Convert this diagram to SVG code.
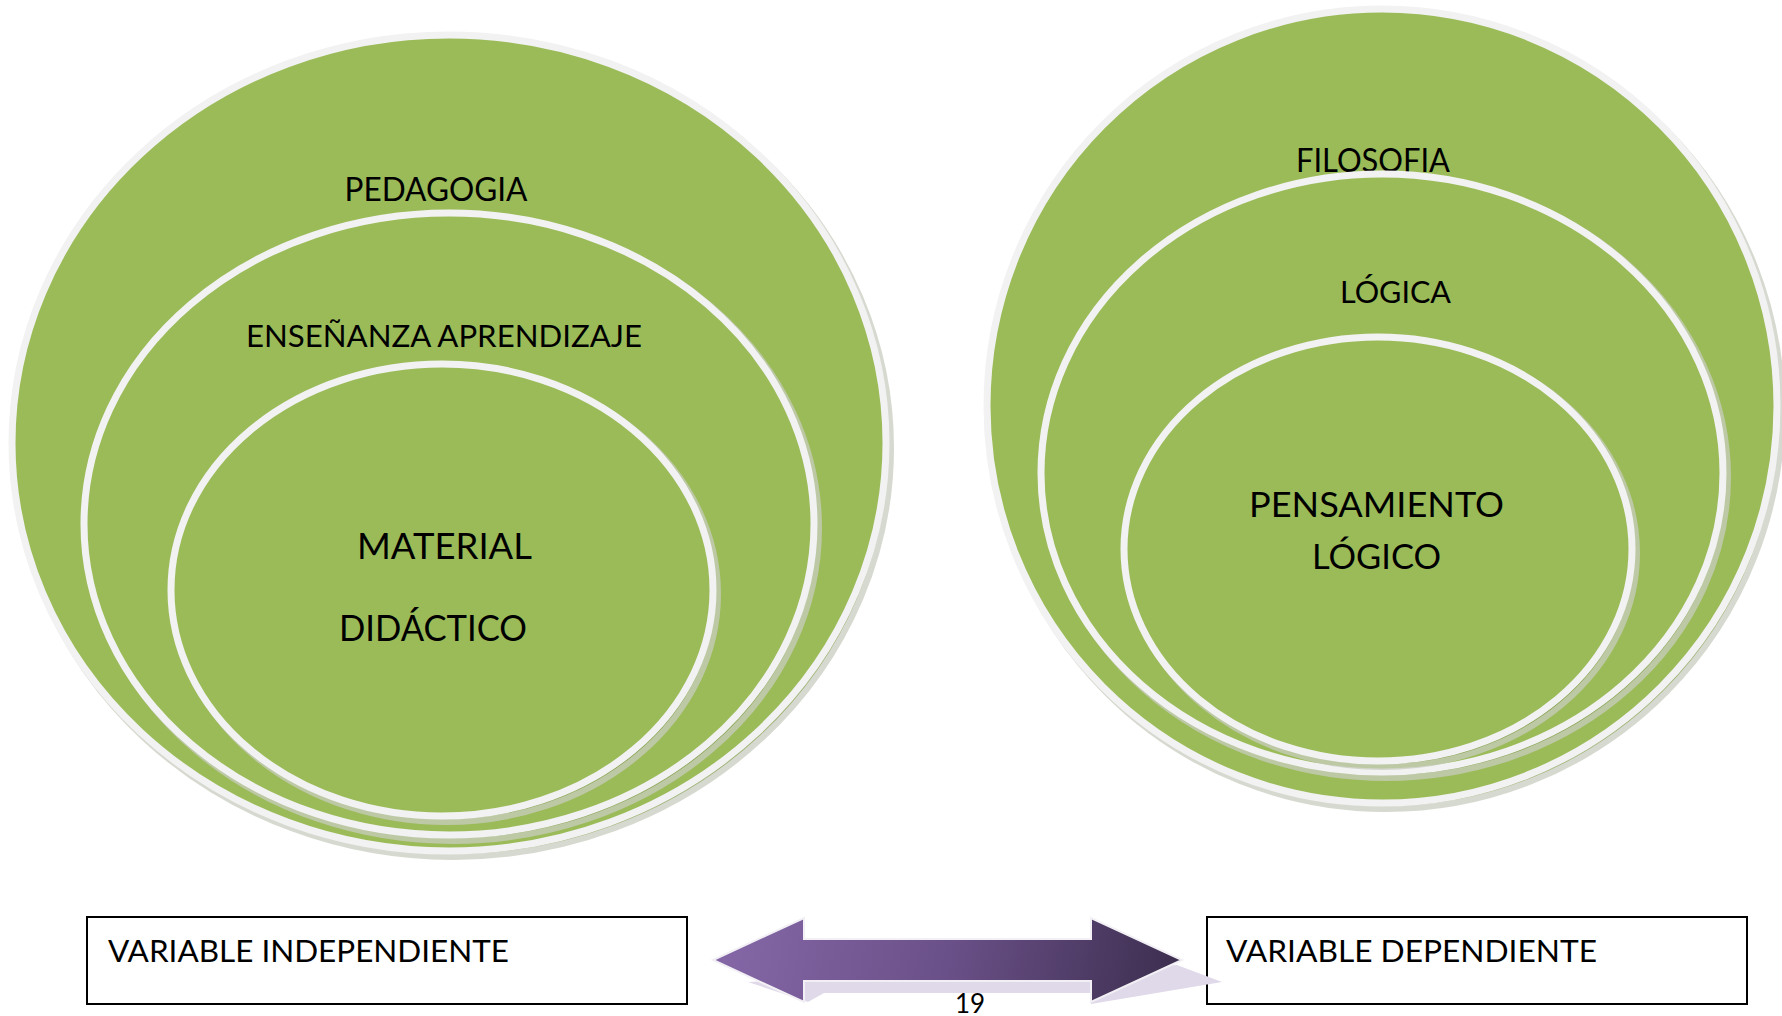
<svg xmlns="http://www.w3.org/2000/svg" width="1782" height="1016" viewBox="0 0 1782 1016">
<style>
.shadow{fill:#7f9a47;stroke:#c9cdbf;stroke-width:6;opacity:0.75}
.ell{fill:#9bbb59;stroke:#f2f2f2;stroke-width:7}
.t{font-family:Lato,"Liberation Sans",sans-serif;fill:#000000}
.box{fill:#ffffff;stroke:#000000;stroke-width:2}
</style>
<defs>
<linearGradient id="arrowGrad" gradientUnits="userSpaceOnUse" x1="713" y1="918" x2="1182" y2="1002">
<stop offset="0" stop-color="#8668a8"/>
<stop offset="0.5" stop-color="#6a5088"/>
<stop offset="1" stop-color="#3b2d4d"/>
</linearGradient>
</defs>
<rect width="1782" height="1016" fill="#ffffff"/>

<g id="pedagogia">
<ellipse class="shadow" cx="453" cy="448" rx="438" ry="409"/>
<ellipse class="ell" cx="449" cy="443" rx="437" ry="408"/>
<text class="t" x="436" y="201" font-size="32" text-anchor="middle" textLength="183" lengthAdjust="spacingAndGlyphs">PEDAGOGIA</text>
</g>
<g id="ensenanza">
<ellipse class="shadow" cx="453" cy="528" rx="366" ry="313"/>
<ellipse class="ell" cx="449" cy="524" rx="365" ry="311"/>
<text class="t" x="444" y="347" font-size="31" text-anchor="middle" textLength="396" lengthAdjust="spacingAndGlyphs">ENSEÑANZA APRENDIZAJE</text>
</g>
<g id="material">
<ellipse class="shadow" cx="446" cy="594" rx="272" ry="228"/>
<ellipse class="ell" cx="442" cy="590" rx="271" ry="226"/>
<text class="t" x="357" y="559" font-size="37" textLength="175" lengthAdjust="spacingAndGlyphs">MATERIAL</text>
<text class="t" x="339" y="641" font-size="37" textLength="188" lengthAdjust="spacingAndGlyphs">DIDÁCTICO</text>
</g>

<g id="filosofia">
<ellipse class="shadow" cx="1386" cy="411" rx="396" ry="398"/>
<ellipse class="ell" cx="1382" cy="406" rx="395" ry="397"/>
<text class="t" x="1296" y="172" font-size="32" textLength="154" lengthAdjust="spacingAndGlyphs">FILOSOFIA</text>
</g>
<g id="logica">
<ellipse class="shadow" cx="1386" cy="477" rx="342" ry="301"/>
<ellipse class="ell" cx="1382" cy="473" rx="341" ry="299"/>
<text class="t" x="1340" y="303" font-size="30" textLength="111" lengthAdjust="spacingAndGlyphs">LÓGICA</text>
</g>
<g id="pensamiento">
<ellipse class="shadow" cx="1382" cy="553" rx="255" ry="214"/>
<ellipse class="ell" cx="1378" cy="549" rx="254" ry="212"/>
<text class="t" x="1249" y="517" font-size="34" textLength="255" lengthAdjust="spacingAndGlyphs">PENSAMIENTO</text>
<text class="t" x="1312" y="569" font-size="34" textLength="129" lengthAdjust="spacingAndGlyphs">LÓGICO</text>
</g>

<g id="variable-independiente">
<rect class="box" x="87" y="917" width="600" height="87"/>
<text class="t" x="108" y="962" font-size="31" textLength="401" lengthAdjust="spacingAndGlyphs">VARIABLE INDEPENDIENTE</text>
</g>
<g id="variable-dependiente">
<rect class="box" x="1207" y="917" width="540" height="87"/>
<text class="t" x="1226" y="962" font-size="31" textLength="371" lengthAdjust="spacingAndGlyphs">VARIABLE DEPENDIENTE</text>
</g>

<g id="connectors">
<polygon points="748,982 1177,965 1222,982 1091,1004 1091,993 824,993 808,1002" fill="#e0d9e9"/>
<polygon points="713,960 804,918 804,939 1091,939 1091,918 1182,960 1091,1002 1091,981 804,981 804,1002" fill="url(#arrowGrad)" stroke="#f2f0f5" stroke-width="2" stroke-linejoin="miter"/>
</g>
<text class="t" x="970" y="1013" font-size="26" text-anchor="middle">19</text>
</svg>
